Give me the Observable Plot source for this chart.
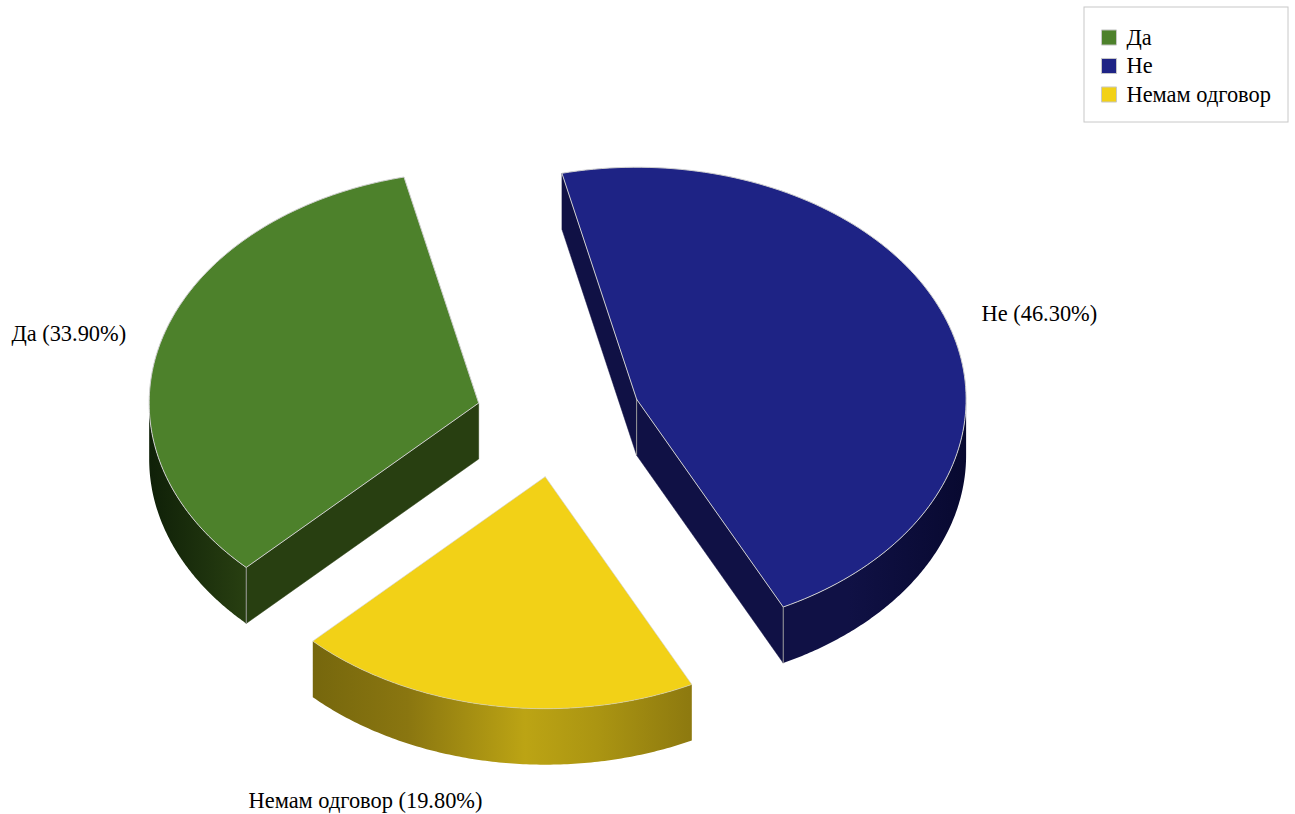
<!DOCTYPE html>
<html>
<head>
<meta charset="utf-8">
<title>Pie chart</title>
<style>html,body{margin:0;padding:0;background:#fff}svg{display:block}</style>
<script src="https://cdn.jsdelivr.net/npm/d3@7"></script>
<script src="https://cdn.jsdelivr.net/npm/@observablehq/plot@0.6"></script>
</head>
<body>
<script>
// Data
const categories = ["Да", "Не", "Немам одговор"];
const shares = [33.9, 46.3, 19.8];
const topColors = ["#4d812b", "#1e2385", "#f2d117"];
const sideColors = ["#283f11", "#101145", "#8a7610"];
const drawOrder = [1, 0, 2];

// Pie layout
const W = 1295, H = 814;
const pieCx = 558, pieCy = 418.5, rx = 329.5, ry = 232, depth = 56, explode = 83;
const startDeg = -13.1;
const rad = Math.PI / 180;

// Slices run clockwise from startDeg, starting with "Не"
let cursor = startDeg;
const slices = {};
[1, 2, 0].forEach(i => {
  const a0 = cursor, a1 = cursor + shares[i] * 3.6;
  cursor = a1;
  const mid = (a0 + a1) / 2;
  slices[i] = {
    a0, a1, mid,
    cx: pieCx + Math.sin(mid * rad) * explode,
    cy: pieCy - Math.cos(mid * rad) * explode * (ry / rx)
  };
});

const rim = (s, deg, drop = 0) => ({
  x: s.cx + rx * Math.sin(deg * rad),
  y: s.cy - ry * Math.cos(deg * rad) + drop
});
const arc = (s, a0, a1, drop = 0) => d3.range(0, 121).map(k => rim(s, a0 + (a1 - a0) * k / 120, drop));
const closed = pts => [...pts, pts[0]];

const marks = [];
const gradientDefs = () => {
  const defs = d3.create("svg:defs");
  const add = (id, stops) => {
    const g = defs.append("linearGradient").attr("id", id);
    stops.forEach(([o, c]) => g.append("stop").attr("offset", o).attr("stop-color", c));
  };
  add("wall0", [[0, "#0f2008"], [1, "#283f11"]]);
  add("wall1", [[0, "#101145"], [0.35, "#101145"], [1, "#080930"]]);
  add("wall2", [[0, "#76670d"], [0.25, "#8a7610"], [0.56, "#bca414"], [0.75, "#ab9512"], [1, "#8d790f"]]);
  return defs.node();
};
marks.push(gradientDefs);

const xy = {x: "x", y: "y", curve: "linear"};

drawOrder.forEach(i => {
  const s = slices[i];
  const centre = {x: s.cx, y: s.cy};
  const side = sideColors[i];
  // radial walls facing the viewer
  const radial = [];
  if (Math.sin(s.a0 * rad) < 0) radial.push(s.a0);
  if (Math.sin(s.a1 * rad) > 0) radial.push(s.a1);
  radial.forEach(a => {
    const e = rim(s, a);
    const wall = [centre, e, {x: e.x, y: e.y + depth}, {x: centre.x, y: centre.y + depth}];
    marks.push(Plot.line(closed(wall), {...xy, fill: side, stroke: side, strokeWidth: 0.5}));
  });
  // curved outer wall: the front half only
  const lo = Math.max(s.a0, 90), hi = Math.min(s.a1, 270);
  if (hi > lo) {
    const wall = [...arc(s, lo, hi), ...arc(s, hi, lo, depth)];
    marks.push(Plot.line(closed(wall), {...xy, fill: `url(#wall${i})`}));
  }
  // vertical edges where walls meet
  radial.forEach(a => {
    const edge = a > 90 && a < 270 ? rim(s, a) : centre;
    marks.push(Plot.line([edge, {x: edge.x, y: edge.y + depth}], {...xy, stroke: "#9a9a9a", strokeWidth: 1}));
  });
  // top face
  const top = closed([centre, ...arc(s, s.a0, s.a1)]);
  marks.push(Plot.line(top, {...xy, fill: topColors[i], stroke: "#cfcfcf", strokeWidth: i === 2 ? 0.6 : 1}));
});

// Slice labels
const labelRows = categories.map((c, i) => {
  const s = slices[i], sn = Math.sin(s.mid * rad), cs = Math.cos(s.mid * rad);
  return {
    text: `${c} (${shares[i].toFixed(2)}%)`,
    x: s.cx + sn * (rx + 37) + (cs < 0 ? -4 : 0),
    y: s.cy - cs * (ry + 22) + (cs < 0 ? depth + 17.5 : 0),
    anchor: sn < 0 ? "end" : "start"
  };
});
const font = {fontFamily: "'Liberation Serif','Times New Roman',serif", fontSize: 22.4, fill: "#000"};
["start", "end"].forEach(anchor => {
  marks.push(Plot.text(labelRows.filter(d => d.anchor === anchor), {x: "x", y: "y", text: "text", textAnchor: anchor, lineAnchor: "middle", ...font}));
});

// Legend
const legendRows = categories.map((c, i) => ({c, i, y: 37 + i * 28.5}));
marks.push(Plot.rect([{}], {x1: () => 1084, x2: () => 1288, y1: () => 7, y2: () => 122, fill: "#fff", stroke: "#c8c8c8", strokeWidth: 1}));
marks.push(Plot.dot(legendRows, {x: () => 1108.5, y: "y", symbol: "square", r: 8.5, fill: d => topColors[d.i], stroke: "#c8c8c8", strokeWidth: 1}));
marks.push(Plot.text(legendRows, {x: () => 1126, y: "y", text: "c", textAnchor: "start", lineAnchor: "middle", ...font}));

document.body.append(Plot.plot({
  width: W, height: H,
  margin: 0,
  style: {background: "#fff"},
  x: {domain: [0, W], range: [0, W], axis: null},
  y: {domain: [0, H], range: [0, H], axis: null},
  marks
}));
</script>
</body>
</html>
